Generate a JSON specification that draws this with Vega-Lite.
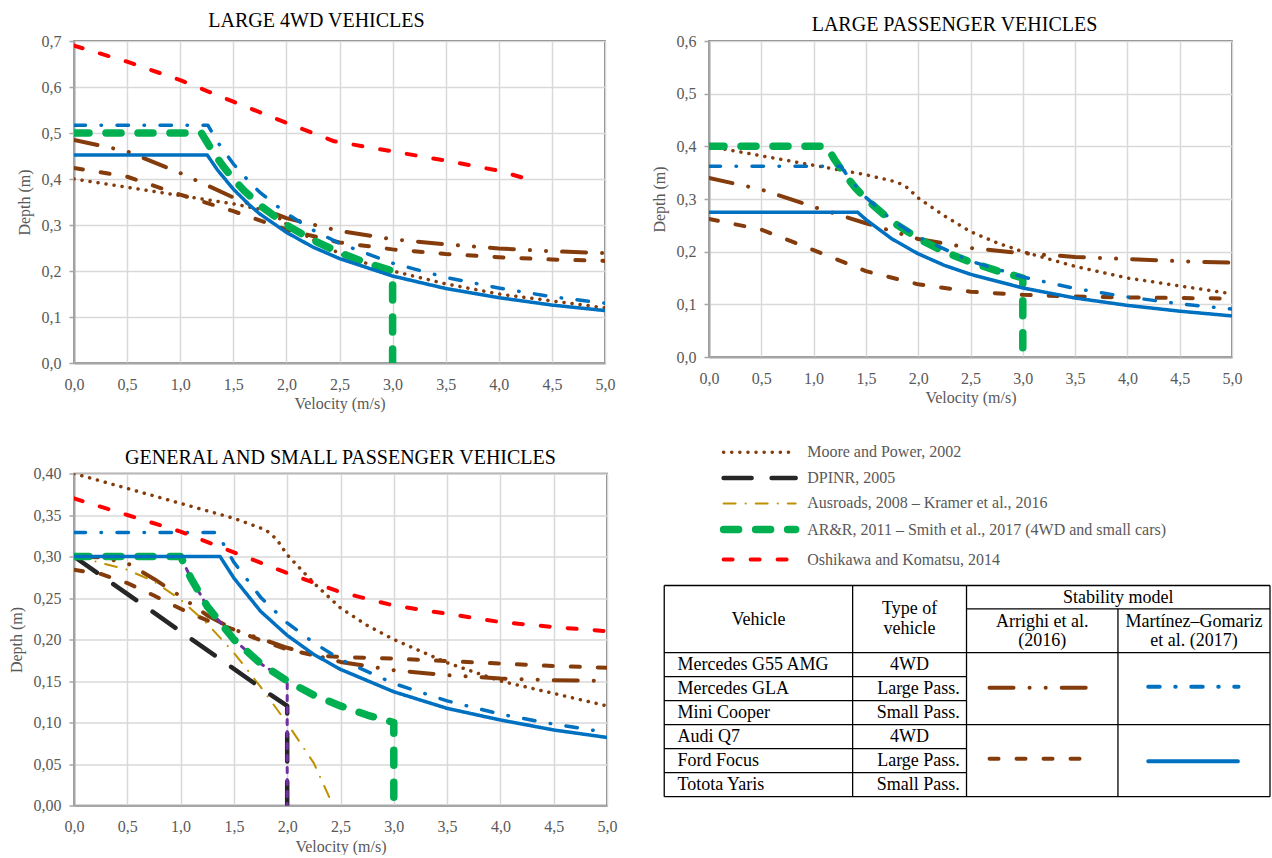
{
"$schema": "https://vega.github.io/schema/vega-lite/v6.json",
"background": "white",
"padding": {"left": 7, "top": 10, "right": 0, "bottom": 0},
"columns": 2,
"spacing": {"row": 110.5, "column": 102},
"bounds": "flush",
"align": "none",
"resolve": {"scale": {"x": "independent", "y": "independent", "color": "independent", "strokeDash": "independent"}, "axis": {"x": "independent", "y": "independent"}},
"config": {
  "font": "Liberation Serif",
  "view": {"stroke": null},
  "axis": {"labelFont": "Liberation Serif", "labelFontSize": 16, "labelColor": "#595959", "titleFont": "Liberation Serif", "titleFontSize": 16, "titleFontWeight": "normal", "titleColor": "#595959", "gridColor": "#D9D9D9", "gridWidth": 1.5, "domainColor": "#A6A6A6", "domainWidth": 2, "tickColor": "#A6A6A6", "tickSize": 5, "tickWidth": 1.5, "labelFlush": false, "labelOverlap": false},
  "axisX": {"ticks": false, "tickSize": 0, "labelPadding": 13, "titlePadding": 3.5},
  "axisY": {"labelPadding": 8, "titlePadding": 9},
  "title": {"font": "Liberation Serif", "fontSize": 20, "fontWeight": "normal", "color": "#000000", "anchor": "middle", "frame": "group"}
},
"datasets": {
"curves": [
{"p":0,"s":"MP","v":0,"d":0.4},{"p":0,"s":"MP","v":0.5,"d":0.382},{"p":0,"s":"MP","v":1,"d":0.364},{"p":0,"s":"MP","v":1.5,"d":0.346},{"p":0,"s":"MP","v":1.8,"d":0.332},{"p":0,"s":"MP","v":1.9,"d":0.321},{"p":0,"s":"MP","v":2,"d":0.302},{"p":0,"s":"MP","v":2.25,"d":0.268},{"p":0,"s":"MP","v":2.5,"d":0.238},{"p":0,"s":"MP","v":2.75,"d":0.217},{"p":0,"s":"MP","v":3,"d":0.2},{"p":0,"s":"MP","v":3.5,"d":0.172},{"p":0,"s":"MP","v":4,"d":0.15},{"p":0,"s":"MP","v":4.5,"d":0.135},{"p":0,"s":"MP","v":5,"d":0.12},

{"p":1,"s":"AR1","v":0,"d":0.485},{"p":1,"s":"AR1","v":0.5,"d":0.46},{"p":1,"s":"AR1","v":1,"d":0.413},{"p":1,"s":"AR1","v":1.5,"d":0.36},{"p":1,"s":"AR1","v":2,"d":0.315},{"p":1,"s":"AR1","v":2.5,"d":0.287},{"p":1,"s":"AR1","v":3,"d":0.269},{"p":1,"s":"AR1","v":3.5,"d":0.258},{"p":1,"s":"AR1","v":4,"d":0.249},{"p":1,"s":"AR1","v":4.5,"d":0.243},{"p":1,"s":"AR1","v":5,"d":0.239},
{"p":1,"s":"AR2","v":0,"d":0.424},{"p":1,"s":"AR2","v":0.5,"d":0.405},{"p":1,"s":"AR2","v":1,"d":0.366},{"p":1,"s":"AR2","v":1.5,"d":0.33},{"p":1,"s":"AR2","v":2,"d":0.29},{"p":1,"s":"AR2","v":2.5,"d":0.262},{"p":1,"s":"AR2","v":3,"d":0.247},{"p":1,"s":"AR2","v":3.5,"d":0.237},{"p":1,"s":"AR2","v":4,"d":0.23},{"p":1,"s":"AR2","v":4.5,"d":0.225},{"p":1,"s":"AR2","v":5,"d":0.222},
{"p":1,"s":"ARR","v":0,"d":0.5},{"p":1,"s":"ARR","v":1.2,"d":0.5},{"p":1,"s":"ARR","v":1.3,"d":0.462},{"p":1,"s":"ARR","v":1.4,"d":0.429},{"p":1,"s":"ARR","v":1.5,"d":0.4},{"p":1,"s":"ARR","v":1.6,"d":0.375},{"p":1,"s":"ARR","v":1.75,"d":0.343},{"p":1,"s":"ARR","v":2,"d":0.3},{"p":1,"s":"ARR","v":2.25,"d":0.267},{"p":1,"s":"ARR","v":2.5,"d":0.24},{"p":1,"s":"ARR","v":2.75,"d":0.218},{"p":1,"s":"ARR","v":3,"d":0.2},{"p":1,"s":"ARR","v":3,"d":0},
{"p":1,"s":"MG1","v":0,"d":0.517},{"p":1,"s":"MG1","v":1.26,"d":0.517},{"p":1,"s":"MG1","v":1.35,"d":0.481},{"p":1,"s":"MG1","v":1.5,"d":0.433},{"p":1,"s":"MG1","v":1.65,"d":0.394},{"p":1,"s":"MG1","v":1.75,"d":0.371},{"p":1,"s":"MG1","v":2,"d":0.325},{"p":1,"s":"MG1","v":2.25,"d":0.289},{"p":1,"s":"MG1","v":2.5,"d":0.26},{"p":1,"s":"MG1","v":3,"d":0.217},{"p":1,"s":"MG1","v":3.5,"d":0.186},{"p":1,"s":"MG1","v":4,"d":0.163},{"p":1,"s":"MG1","v":4.5,"d":0.144},{"p":1,"s":"MG1","v":5,"d":0.13},
{"p":1,"s":"MG2","v":0,"d":0.452},{"p":1,"s":"MG2","v":1.255,"d":0.452},{"p":1,"s":"MG2","v":1.35,"d":0.42},{"p":1,"s":"MG2","v":1.5,"d":0.378},{"p":1,"s":"MG2","v":1.65,"d":0.344},{"p":1,"s":"MG2","v":1.75,"d":0.324},{"p":1,"s":"MG2","v":2,"d":0.284},{"p":1,"s":"MG2","v":2.25,"d":0.252},{"p":1,"s":"MG2","v":2.5,"d":0.227},{"p":1,"s":"MG2","v":3,"d":0.189},{"p":1,"s":"MG2","v":3.5,"d":0.162},{"p":1,"s":"MG2","v":4,"d":0.142},{"p":1,"s":"MG2","v":4.5,"d":0.126},{"p":1,"s":"MG2","v":5,"d":0.114},
{"p":1,"s":"OK","v":0,"d":0.69},{"p":1,"s":"OK","v":0.5,"d":0.655},{"p":1,"s":"OK","v":1,"d":0.615},{"p":1,"s":"OK","v":1.5,"d":0.568},{"p":1,"s":"OK","v":2,"d":0.522},{"p":1,"s":"OK","v":2.45,"d":0.482},{"p":1,"s":"OK","v":3,"d":0.46},{"p":1,"s":"OK","v":3.5,"d":0.44},{"p":1,"s":"OK","v":4,"d":0.418},{"p":1,"s":"OK","v":4.27,"d":0.4},

{"p":2,"s":"AR1","v":0,"d":0.34},{"p":2,"s":"AR1","v":0.5,"d":0.318},{"p":2,"s":"AR1","v":1,"d":0.285},{"p":2,"s":"AR1","v":1.5,"d":0.254},{"p":2,"s":"AR1","v":2,"d":0.224},{"p":2,"s":"AR1","v":2.5,"d":0.207},{"p":2,"s":"AR1","v":3,"d":0.197},{"p":2,"s":"AR1","v":3.5,"d":0.19},{"p":2,"s":"AR1","v":4,"d":0.186},{"p":2,"s":"AR1","v":4.5,"d":0.182},{"p":2,"s":"AR1","v":5,"d":0.179},
{"p":2,"s":"AR2","v":0,"d":0.262},{"p":2,"s":"AR2","v":0.5,"d":0.242},{"p":2,"s":"AR2","v":1,"d":0.203},{"p":2,"s":"AR2","v":1.5,"d":0.163},{"p":2,"s":"AR2","v":2,"d":0.138},{"p":2,"s":"AR2","v":2.5,"d":0.124},{"p":2,"s":"AR2","v":3,"d":0.118},{"p":2,"s":"AR2","v":3.5,"d":0.115},{"p":2,"s":"AR2","v":4,"d":0.113},{"p":2,"s":"AR2","v":4.5,"d":0.112},{"p":2,"s":"AR2","v":5,"d":0.111},
{"p":2,"s":"ARR","v":0,"d":0.4},{"p":2,"s":"ARR","v":1.125,"d":0.4},{"p":2,"s":"ARR","v":1.2,"d":0.375},{"p":2,"s":"ARR","v":1.3,"d":0.346},{"p":2,"s":"ARR","v":1.4,"d":0.321},{"p":2,"s":"ARR","v":1.5,"d":0.3},{"p":2,"s":"ARR","v":1.75,"d":0.257},{"p":2,"s":"ARR","v":2,"d":0.225},{"p":2,"s":"ARR","v":2.25,"d":0.2},{"p":2,"s":"ARR","v":2.5,"d":0.18},{"p":2,"s":"ARR","v":2.75,"d":0.164},{"p":2,"s":"ARR","v":3,"d":0.15},{"p":2,"s":"ARR","v":3,"d":0},
{"p":2,"s":"MG1","v":0,"d":0.362},{"p":2,"s":"MG1","v":1.26,"d":0.362},{"p":2,"s":"MG1","v":1.35,"d":0.337},{"p":2,"s":"MG1","v":1.5,"d":0.303},{"p":2,"s":"MG1","v":1.75,"d":0.26},{"p":2,"s":"MG1","v":2,"d":0.228},{"p":2,"s":"MG1","v":2.5,"d":0.182},{"p":2,"s":"MG1","v":3,"d":0.152},{"p":2,"s":"MG1","v":3.5,"d":0.13},{"p":2,"s":"MG1","v":4,"d":0.114},{"p":2,"s":"MG1","v":4.5,"d":0.101},{"p":2,"s":"MG1","v":5,"d":0.091},
{"p":2,"s":"MG2","v":0,"d":0.275},{"p":2,"s":"MG2","v":1.42,"d":0.275},{"p":2,"s":"MG2","v":1.5,"d":0.261},{"p":2,"s":"MG2","v":1.75,"d":0.224},{"p":2,"s":"MG2","v":2,"d":0.196},{"p":2,"s":"MG2","v":2.25,"d":0.174},{"p":2,"s":"MG2","v":2.5,"d":0.157},{"p":2,"s":"MG2","v":3,"d":0.131},{"p":2,"s":"MG2","v":3.5,"d":0.112},{"p":2,"s":"MG2","v":4,"d":0.098},{"p":2,"s":"MG2","v":4.5,"d":0.087},{"p":2,"s":"MG2","v":5,"d":0.078},

{"p":3,"s":"AR1","v":0,"d":0.3},{"p":3,"s":"AR1","v":0.25,"d":0.299},{"p":3,"s":"AR1","v":0.5,"d":0.292},{"p":3,"s":"AR1","v":0.75,"d":0.273},{"p":3,"s":"AR1","v":1,"d":0.252},{"p":3,"s":"AR1","v":1.25,"d":0.229},{"p":3,"s":"AR1","v":1.5,"d":0.212},{"p":3,"s":"AR1","v":2,"d":0.19},{"p":3,"s":"AR1","v":2.5,"d":0.173},{"p":3,"s":"AR1","v":3,"d":0.163},{"p":3,"s":"AR1","v":3.5,"d":0.157},{"p":3,"s":"AR1","v":4,"d":0.153},{"p":3,"s":"AR1","v":4.5,"d":0.151},{"p":3,"s":"AR1","v":5,"d":0.15},
{"p":3,"s":"AR2","v":0,"d":0.284},{"p":3,"s":"AR2","v":0.25,"d":0.279},{"p":3,"s":"AR2","v":0.5,"d":0.268},{"p":3,"s":"AR2","v":0.75,"d":0.253},{"p":3,"s":"AR2","v":1,"d":0.237},{"p":3,"s":"AR2","v":1.25,"d":0.223},{"p":3,"s":"AR2","v":1.5,"d":0.212},{"p":3,"s":"AR2","v":1.75,"d":0.199},{"p":3,"s":"AR2","v":2,"d":0.188},{"p":3,"s":"AR2","v":2.25,"d":0.181},{"p":3,"s":"AR2","v":2.5,"d":0.179},{"p":3,"s":"AR2","v":3,"d":0.177},{"p":3,"s":"AR2","v":3.5,"d":0.174},{"p":3,"s":"AR2","v":4,"d":0.171},{"p":3,"s":"AR2","v":4.5,"d":0.168},{"p":3,"s":"AR2","v":5,"d":0.166},
{"p":3,"s":"AUS","v":0,"d":0.3},{"p":3,"s":"AUS","v":0.2,"d":0.294},{"p":3,"s":"AUS","v":0.5,"d":0.284},{"p":3,"s":"AUS","v":0.75,"d":0.27},{"p":3,"s":"AUS","v":1,"d":0.248},{"p":3,"s":"AUS","v":1.25,"d":0.219},{"p":3,"s":"AUS","v":1.5,"d":0.184},{"p":3,"s":"AUS","v":1.75,"d":0.143},{"p":3,"s":"AUS","v":2,"d":0.099},{"p":3,"s":"AUS","v":2.25,"d":0.051},{"p":3,"s":"AUS","v":2.43,"d":0},
{"p":3,"s":"DPINR","v":0,"d":0.3},{"p":3,"s":"DPINR","v":1.85,"d":0.133},{"p":3,"s":"DPINR","v":2,"d":0.12},{"p":3,"s":"DPINR","v":2,"d":0},
{"p":3,"s":"PUR","v":0,"d":0.3},{"p":3,"s":"PUR","v":1,"d":0.3},{"p":3,"s":"PUR","v":1.1,"d":0.273},{"p":3,"s":"PUR","v":1.25,"d":0.24},{"p":3,"s":"PUR","v":1.5,"d":0.2},{"p":3,"s":"PUR","v":1.75,"d":0.171},{"p":3,"s":"PUR","v":2,"d":0.15},{"p":3,"s":"PUR","v":2,"d":0},
{"p":3,"s":"ARR","v":0,"d":0.3},{"p":3,"s":"ARR","v":1,"d":0.3},{"p":3,"s":"ARR","v":1.1,"d":0.273},{"p":3,"s":"ARR","v":1.25,"d":0.24},{"p":3,"s":"ARR","v":1.5,"d":0.2},{"p":3,"s":"ARR","v":1.75,"d":0.171},{"p":3,"s":"ARR","v":2,"d":0.15},{"p":3,"s":"ARR","v":2.25,"d":0.133},{"p":3,"s":"ARR","v":2.5,"d":0.12},{"p":3,"s":"ARR","v":2.75,"d":0.109},{"p":3,"s":"ARR","v":3,"d":0.1},{"p":3,"s":"ARR","v":3,"d":0},
{"p":3,"s":"MG1","v":0,"d":0.329},{"p":3,"s":"MG1","v":1.34,"d":0.329},{"p":3,"s":"MG1","v":1.5,"d":0.293},{"p":3,"s":"MG1","v":1.75,"d":0.251},{"p":3,"s":"MG1","v":2,"d":0.22},{"p":3,"s":"MG1","v":2.25,"d":0.196},{"p":3,"s":"MG1","v":2.5,"d":0.176},{"p":3,"s":"MG1","v":3,"d":0.147},{"p":3,"s":"MG1","v":3.5,"d":0.126},{"p":3,"s":"MG1","v":4,"d":0.11},{"p":3,"s":"MG1","v":4.5,"d":0.098},{"p":3,"s":"MG1","v":5,"d":0.088},
{"p":3,"s":"MG2","v":0,"d":0.3},{"p":3,"s":"MG2","v":1.37,"d":0.3},{"p":3,"s":"MG2","v":1.5,"d":0.274},{"p":3,"s":"MG2","v":1.75,"d":0.234},{"p":3,"s":"MG2","v":2,"d":0.205},{"p":3,"s":"MG2","v":2.25,"d":0.182},{"p":3,"s":"MG2","v":2.5,"d":0.164},{"p":3,"s":"MG2","v":3,"d":0.137},{"p":3,"s":"MG2","v":3.5,"d":0.117},{"p":3,"s":"MG2","v":4,"d":0.103},{"p":3,"s":"MG2","v":4.5,"d":0.091},{"p":3,"s":"MG2","v":5,"d":0.082},
{"p":3,"s":"OK","v":0,"d":0.37},{"p":3,"s":"OK","v":0.5,"d":0.35},{"p":3,"s":"OK","v":1,"d":0.33},{"p":3,"s":"OK","v":1.5,"d":0.305},{"p":3,"s":"OK","v":2,"d":0.28},{"p":3,"s":"OK","v":2.5,"d":0.257},{"p":3,"s":"OK","v":3,"d":0.241},{"p":3,"s":"OK","v":3.5,"d":0.231},{"p":3,"s":"OK","v":4,"d":0.221},{"p":3,"s":"OK","v":4.5,"d":0.215},{"p":3,"s":"OK","v":5,"d":0.21}
],
"legend": [
{"s":"MP","label":"Moore and Power, 2002","y":-5.55},
{"s":"DPINR","label":"DPINR, 2005","y":-4.48},
{"s":"AUS","label":"Ausroads, 2008 – Kramer et al., 2016","y":-3.42},
{"s":"ARR","label":"AR&R, 2011 – Smith et al., 2017 (4WD and small cars)","y":-2.33},
{"s":"OK","label":"Oshikawa and Komatsu, 2014","y":-1.08}
],
"swatches": [
{"s":"AR1","x":53.7,"x2":71.5,"y":4.26},
{"s":"MG1","x":79.9,"x2":94.8,"y":4.22},
{"s":"AR2","x":53.7,"x2":70.2,"y":7.22},
{"s":"MG2","x":79.9,"x2":94.7,"y":7.32}
],
"tableLines": [
{"x1":0,"x2":100,"y1":0,"y2":0},
{"x1":49.9,"x2":100,"y1":0.97,"y2":0.97},
{"x1":0,"x2":100,"y1":2.8,"y2":2.8},
{"x1":0,"x2":49.9,"y1":3.8,"y2":3.8},
{"x1":0,"x2":49.9,"y1":4.8,"y2":4.8},
{"x1":0,"x2":100,"y1":5.8,"y2":5.8},
{"x1":0,"x2":49.9,"y1":6.8,"y2":6.8},
{"x1":0,"x2":49.9,"y1":7.8,"y2":7.8},
{"x1":0,"x2":100,"y1":8.8,"y2":8.8},
{"x1":0,"x2":0,"y1":0,"y2":8.8},
{"x1":31.1,"x2":31.1,"y1":0,"y2":8.8},
{"x1":49.9,"x2":49.9,"y1":0,"y2":8.8},
{"x1":74.9,"x2":74.9,"y1":0.97,"y2":8.8},
{"x1":100,"x2":100,"y1":0,"y2":8.8}
],
"headers": [
{"t":"Vehicle","x":15.55,"y":1.42},
{"t":"Type of","x":40.5,"y":0.97},
{"t":"vehicle","x":40.5,"y":1.8},
{"t":"Stability model","x":74.95,"y":0.54},
{"t":"Arrighi et al.","x":62.4,"y":1.5},
{"t":"(2016)","x":62.4,"y":2.33},
{"t":"Martínez–Gomariz","x":87.45,"y":1.5},
{"t":"et al. (2017)","x":87.45,"y":2.33}
],
"vehicles": [
{"veh":"Mercedes G55 AMG","type":"4WD","y":3.3},
{"veh":"Mercedes GLA","type":"Large Pass.","y":4.3},
{"veh":"Mini Cooper","type":"Small Pass.","y":5.3},
{"veh":"Audi Q7","type":"4WD","y":6.3},
{"veh":"Ford Focus","type":"Large Pass.","y":7.3},
{"veh":"Totota Yaris","type":"Small Pass.","y":8.3}
]
},
"concat": [
{
 "width": 531, "height": 322,
 "title": {"text": "LARGE 4WD VEHICLES", "dx": -23, "offset": 0, "dy": -1.6},
 "view": {"stroke": "#595959", "strokeWidth": 1.5},
 "data": {"name": "curves"},
 "transform": [{"filter": "datum.p === 0 || datum.p === 1"}],
 "mark": {"type": "line", "strokeCap": "round", "strokeJoin": "round", "clip": true},
 "encoding": {
  "x": {"field": "v", "type": "quantitative", "scale": {"domain": [0, 5], "nice": false, "zero": false}, "axis": {"values": [0,0.5,1,1.5,2,2.5,3,3.5,4,4.5,5], "labelExpr": "replace(format(datum.value,'.1f'),'.',',')", "title": "Velocity (m/s)"}},
  "y": {"field": "d", "type": "quantitative", "scale": {"domain": [0, 0.7], "nice": false}, "axis": {"values": [0,0.1,0.2,0.3,0.4,0.5,0.6,0.7], "labelExpr": "replace(format(datum.value,'.1f'),'.',',')", "title": "Depth (m)"}},
  "color": {"field": "s", "type": "nominal", "legend": null, "scale": {"domain": ["MP","AR1","AR2","AUS","DPINR","PUR","ARR","MG1","MG2","OK"], "range": ["#843C0C","#843C0C","#843C0C","#BF9000","#262626","#7030A0","#00B050","#0070C0","#0070C0","#FF0000"]}},
  "strokeDash": {"field": "s", "type": "nominal", "legend": null, "scale": {"domain": ["MP","AR1","AR2","AUS","DPINR","PUR","ARR","MG1","MG2","OK"], "range": [[0.1,8],[24,16,0.1,16,0.1,16],[9,18],[12,10,0.1,10],[28,20],[5,7],[15,17],[11.5,15.5,0.5,15.5],[1,0],[9,18]]}},
  "strokeWidth": {"condition": [{"test": "datum.s === 'ARR'", "value": 7.5}, {"test": "datum.s === 'DPINR'", "value": 4.5}, {"test": "datum.s === 'AR1' || datum.s === 'AR2' || datum.s === 'OK'", "value": 4}, {"test": "datum.s === 'PUR'", "value": 3}, {"test": "datum.s === 'AUS'", "value": 2}], "value": 3.5},
  "order": {"value": null}
 }
},
{
 "width": 523, "height": 316,
 "title": {"text": "LARGE PASSENGER VEHICLES", "dx": -16, "offset": 0, "dy": 1.8},
 "view": {"stroke": "#595959", "strokeWidth": 1.5},
 "data": {"name": "curves"},
 "transform": [{"filter": "datum.p === 0 || datum.p === 2"}],
 "mark": {"type": "line", "strokeCap": "round", "strokeJoin": "round", "clip": true},
 "encoding": {
  "x": {"field": "v", "type": "quantitative", "scale": {"domain": [0, 5], "nice": false, "zero": false}, "axis": {"values": [0,0.5,1,1.5,2,2.5,3,3.5,4,4.5,5], "labelExpr": "replace(format(datum.value,'.1f'),'.',',')", "title": "Velocity (m/s)"}},
  "y": {"field": "d", "type": "quantitative", "scale": {"domain": [0, 0.6], "nice": false}, "axis": {"values": [0,0.1,0.2,0.3,0.4,0.5,0.6], "labelExpr": "replace(format(datum.value,'.1f'),'.',',')", "title": "Depth (m)"}},
  "color": {"field": "s", "type": "nominal", "legend": null, "scale": {"domain": ["MP","AR1","AR2","AUS","DPINR","PUR","ARR","MG1","MG2","OK"], "range": ["#843C0C","#843C0C","#843C0C","#BF9000","#262626","#7030A0","#00B050","#0070C0","#0070C0","#FF0000"]}},
  "strokeDash": {"field": "s", "type": "nominal", "legend": null, "scale": {"domain": ["MP","AR1","AR2","AUS","DPINR","PUR","ARR","MG1","MG2","OK"], "range": [[0.1,8],[24,16,0.1,16,0.1,16],[9,18],[12,10,0.1,10],[28,20],[5,7],[15,17],[11.5,15.5,0.5,15.5],[1,0],[9,18]]}},
  "strokeWidth": {"condition": [{"test": "datum.s === 'ARR'", "value": 7.5}, {"test": "datum.s === 'DPINR'", "value": 4.5}, {"test": "datum.s === 'AR1' || datum.s === 'AR2' || datum.s === 'OK'", "value": 4}, {"test": "datum.s === 'PUR'", "value": 3}, {"test": "datum.s === 'AUS'", "value": 2}], "value": 3.5},
  "order": {"value": null}
 }
},
{
 "width": 533, "height": 332,
 "title": {"text": "GENERAL AND SMALL PASSENGER VEHICLES", "offset": 0, "dy": 2.3},
 "view": {"stroke": "#595959", "strokeWidth": 1.5},
 "data": {"name": "curves"},
 "transform": [{"filter": "datum.p === 0 || datum.p === 3"}],
 "mark": {"type": "line", "strokeCap": "round", "strokeJoin": "round", "clip": true},
 "encoding": {
  "x": {"field": "v", "type": "quantitative", "scale": {"domain": [0, 5], "nice": false, "zero": false}, "axis": {"values": [0,0.5,1,1.5,2,2.5,3,3.5,4,4.5,5], "labelExpr": "replace(format(datum.value,'.1f'),'.',',')", "title": "Velocity (m/s)"}},
  "y": {"field": "d", "type": "quantitative", "scale": {"domain": [0, 0.4], "nice": false}, "axis": {"values": [0,0.05,0.1,0.15,0.2,0.25,0.3,0.35,0.4], "labelExpr": "replace(format(datum.value,'.2f'),'.',',')", "title": "Depth (m)"}},
  "color": {"field": "s", "type": "nominal", "legend": null, "scale": {"domain": ["MP","AR1","AR2","AUS","DPINR","PUR","ARR","MG1","MG2","OK"], "range": ["#843C0C","#843C0C","#843C0C","#BF9000","#262626","#7030A0","#00B050","#0070C0","#0070C0","#FF0000"]}},
  "strokeDash": {"field": "s", "type": "nominal", "legend": null, "scale": {"domain": ["MP","AR1","AR2","AUS","DPINR","PUR","ARR","MG1","MG2","OK"], "range": [[0.1,8],[24,16,0.1,16,0.1,16],[9,18],[12,10,0.1,10],[28,20],[5,7],[15,17],[11.5,15.5,0.5,15.5],[1,0],[9,18]]}},
  "strokeWidth": {"condition": [{"test": "datum.s === 'ARR'", "value": 7.5}, {"test": "datum.s === 'DPINR'", "value": 4.5}, {"test": "datum.s === 'AR1' || datum.s === 'AR2' || datum.s === 'OK'", "value": 4}, {"test": "datum.s === 'PUR'", "value": 3}, {"test": "datum.s === 'AUS'", "value": 2}], "value": 3.5},
  "order": {"value": null}
 }
},
{
 "width": 561, "height": 323,
 "view": {"stroke": null},
 "layer": [
  {
   "data": {"name": "tableLines"},
   "mark": {"type": "rule", "color": "#000000", "strokeWidth": 1.3},
   "encoding": {
    "x": {"field": "x1", "type": "quantitative", "scale": {"domain": [7.39, 100], "nice": false, "zero": false}, "axis": null},
    "x2": {"field": "x2"},
    "y": {"field": "y1", "type": "quantitative", "scale": {"domain": [-4.667, 8.792], "nice": false, "zero": false, "reverse": true}, "axis": null},
    "y2": {"field": "y2"}
   }
  },
  {
   "data": {"name": "legend"},
   "mark": {"type": "rule", "strokeCap": "round"},
   "encoding": {
    "x": {"datum": 9.8, "type": "quantitative"},
    "x2": {"datum": 21.7},
    "y": {"field": "y", "type": "quantitative"},
    "color": {"field": "s", "type": "nominal", "legend": null, "scale": {"domain": ["MP","AR1","AR2","AUS","DPINR","PUR","ARR","MG1","MG2","OK"], "range": ["#843C0C","#843C0C","#843C0C","#BF9000","#262626","#7030A0","#00B050","#0070C0","#0070C0","#FF0000"]}},
    "strokeDash": {"field": "s", "type": "nominal", "legend": null, "scale": {"domain": ["MP","AR1","AR2","AUS","DPINR","PUR","ARR","MG1","MG2","OK"], "range": [[0.1,8],[24,16,0.1,16,0.1,16],[9,18],[12,10,0.1,10],[28,20],[5,7],[15,17],[11.5,15.5,0.5,15.5],[1,0],[9,18]]}},
    "strokeWidth": {"condition": [{"test": "datum.s === 'ARR'", "value": 7.5}, {"test": "datum.s === 'DPINR'", "value": 4.5}, {"test": "datum.s === 'AR1' || datum.s === 'AR2' || datum.s === 'OK'", "value": 4}, {"test": "datum.s === 'PUR'", "value": 3}, {"test": "datum.s === 'AUS'", "value": 2}], "value": 3.5}
   }
  },
  {
   "data": {"name": "legend"},
   "mark": {"type": "text", "align": "left", "baseline": "middle", "font": "Liberation Serif", "fontSize": 16, "color": "#595959"},
   "encoding": {
    "x": {"datum": 23.6, "type": "quantitative"},
    "y": {"field": "y", "type": "quantitative"},
    "text": {"field": "label"}
   }
  },
  {
   "data": {"name": "swatches"},
   "mark": {"type": "rule", "strokeCap": "round"},
   "encoding": {
    "x": {"field": "x", "type": "quantitative"},
    "x2": {"field": "x2"},
    "y": {"field": "y", "type": "quantitative"},
    "color": {"field": "s", "type": "nominal", "legend": null, "scale": {"domain": ["MP","AR1","AR2","AUS","DPINR","PUR","ARR","MG1","MG2","OK"], "range": ["#843C0C","#843C0C","#843C0C","#BF9000","#262626","#7030A0","#00B050","#0070C0","#0070C0","#FF0000"]}},
    "strokeDash": {"field": "s", "type": "nominal", "legend": null, "scale": {"domain": ["MP","AR1","AR2","AUS","DPINR","PUR","ARR","MG1","MG2","OK"], "range": [[0.1,8],[24,16,0.1,16,0.1,16],[9,18],[12,10,0.1,10],[28,20],[5,7],[15,17],[11.5,15.5,0.5,15.5],[1,0],[9,18]]}},
    "strokeWidth": {"value": 4}
   }
  },
  {
   "data": {"name": "headers"},
   "mark": {"type": "text", "align": "center", "baseline": "middle", "font": "Liberation Serif", "fontSize": 18, "color": "#000000"},
   "encoding": {
    "x": {"field": "x", "type": "quantitative"},
    "y": {"field": "y", "type": "quantitative"},
    "text": {"field": "t"}
   }
  },
  {
   "data": {"name": "vehicles"},
   "mark": {"type": "text", "align": "left", "baseline": "middle", "font": "Liberation Serif", "fontSize": 18, "color": "#000000"},
   "encoding": {
    "x": {"datum": 2.2, "type": "quantitative"},
    "y": {"field": "y", "type": "quantitative"},
    "text": {"field": "veh"}
   }
  },
  {
   "data": {"name": "vehicles"},
   "transform": [{"filter": "datum.type === '4WD'"}],
   "mark": {"type": "text", "align": "center", "baseline": "middle", "font": "Liberation Serif", "fontSize": 18, "color": "#000000"},
   "encoding": {
    "x": {"datum": 40.5, "type": "quantitative"},
    "y": {"field": "y", "type": "quantitative"},
    "text": {"field": "type"}
   }
  },
  {
   "data": {"name": "vehicles"},
   "transform": [{"filter": "datum.type !== '4WD'"}],
   "mark": {"type": "text", "align": "right", "baseline": "middle", "font": "Liberation Serif", "fontSize": 18, "color": "#000000"},
   "encoding": {
    "x": {"datum": 48.8, "type": "quantitative"},
    "y": {"field": "y", "type": "quantitative"},
    "text": {"field": "type"}
   }
  }
 ]
}
]
}
